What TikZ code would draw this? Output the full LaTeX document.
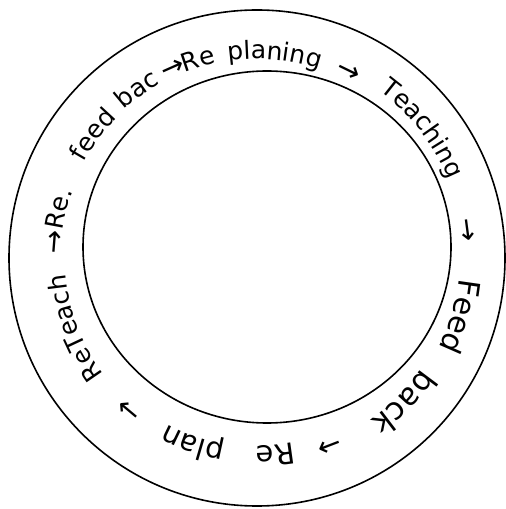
\documentclass[tikz,border=0pt]{standalone}
\usepackage{fontspec}
\setmainfont{DejaVu Sans}
\usetikzlibrary{decorations.text}
\newcommand\ringword[4]{%
  \path[decorate,decoration={text along path,text align=center,
    text={|\fontsize{#3}{#3}\selectfont|#4}}]
    (C) ++({#1+40}:#2) arc[start angle={#1+40}, end angle={#1-40}, radius=#2];}
\tikzset{ring/.style={draw=black,line width=1.6pt}}
\begin{document}
\begin{tikzpicture}[x=1pt,y=1pt]
\useasboundingbox (0,0) rectangle (506,509);
\fill[white] (0,0) rectangle (506,509);
\coordinate (C) at (257,251);
\coordinate (Ci) at (267,262);
\draw[ring] (C) circle[radius=248];
\draw[ring] (Ci) ellipse[x radius=184, y radius=176];
% clockwise sequence of words
\ringword{201}{192}{25pt}{ReTeach}
\ringword{175.5}{194}{28pt}{→}
\ringword{166}{196}{25pt}{Re.}
\ringword{143}{198}{25pt}{feed}
\ringword{125.5}{199}{25pt}{bac}
\ringword{114}{199}{28pt}{→}
\ringword{106.5}{199}{25pt}{Re}
\ringword{85}{199}{25pt}{planing}
\ringword{64}{200}{28pt}{→}
\ringword{38}{207}{25pt}{Teaching}
\ringword{7.5}{204}{28pt}{→}
\ringword{-16}{203}{30pt}{Feed}
\ringword{-44.6}{198}{31pt}{back}
\ringword{-69}{193}{28pt}{→}
\ringword{-84.7}{188}{29pt}{Re}
\ringword{-109}{189}{29pt}{plan}
\ringword{-130}{190}{28pt}{→}
\end{tikzpicture}
\end{document}
